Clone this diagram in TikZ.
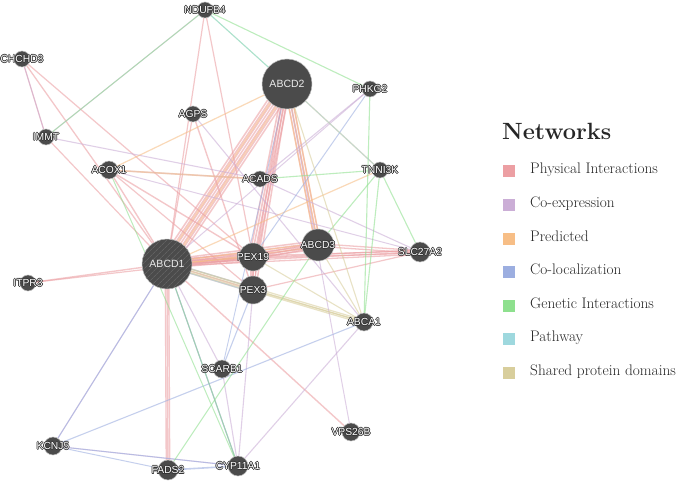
\documentclass[tikz,border=0pt]{standalone}
\usepackage{fontspec}
\newfontfamily\labf{Liberation Sans}
\usetikzlibrary{patterns.meta,calc}
\pgfdeclarelayer{background}
\pgfsetlayers{background,main}
\definecolor{nodec}{HTML}{4B4B4B}
\definecolor{haloc}{HTML}{333333}
\definecolor{hatchc}{HTML}{6E6E6E}
\definecolor{cPhys}{HTML}{EC9FA3}
\definecolor{cCoexp}{HTML}{CBAED6}
\definecolor{cPred}{HTML}{F7BE86}
\definecolor{cColoc}{HTML}{9CAEE0}
\definecolor{cGen}{HTML}{8EE08E}
\definecolor{cPath}{HTML}{9ED8DE}
\definecolor{cShared}{HTML}{D8CE9C}
\newcommand\hlo[1]{{\setbox0=\hbox{\labf\fontsize{10.3}{11}\selectfont #1}%
 \color{haloc}%
 \rlap{\kern0.65pt\copy0}\rlap{\kern-0.65pt\copy0}\rlap{\raise0.65pt\copy0}\rlap{\lower0.65pt\copy0}%
 \rlap{\kern0.45pt\raise0.45pt\copy0}\rlap{\kern-0.45pt\raise0.45pt\copy0}%
 \rlap{\kern0.45pt\lower0.45pt\copy0}\rlap{\kern-0.45pt\lower0.45pt\copy0}%
 \color{white}\copy0}}
\newcommand\blab[1]{{\labf\fontsize{10.5}{12}\selectfont\color{white!92!black}#1}}
% bundle of parallel connectors: from, to, colour, count, spacing, width
\newcommand\bund[6]{\foreach \k in {1,...,#4}{\pgfmathsetmacro\o{(\k-(#4+1)/2)*#5}%
 \draw[#3,ed,line width=#6pt] ($(#1)!\o pt!90:(#2)$) -- ($(#2)!\o pt!-90:(#1)$);}}
\tikzset{
 gn/.style={circle, fill=nodec, draw=white!75!black, line width=0.5pt, inner sep=0pt, minimum size=#1},
 gn/.default=16,
 lsq/.style={rectangle, minimum size=12, inner sep=0pt},
 ltx/.style={anchor=mid west, inner sep=0pt, font=\fontsize{15.3}{18}\selectfont, text=black!85},
 ed/.style={opacity=0.58},
}
\begin{document}
\begin{tikzpicture}[x=1pt,y=-1pt]
\useasboundingbox (0,0) rectangle (685,484);
% nodes
\node[gn] (nd) at (205,10) {\makebox[0pt]{\hlo{NDUFB4}}};
\node[gn] (ch) at (22,59) {\makebox[0pt]{\hlo{CHCHD3}}};
\node[gn=50] (a2) at (287,84) {\blab{ABCD2}};
\node[gn] (ph) at (370,89) {\makebox[0pt]{\hlo{PHKG2}}};
\node[gn] (ag) at (193,114) {\makebox[0pt]{\hlo{AGPS}}};
\node[gn] (im) at (46,137) {\makebox[0pt]{\hlo{IMMT}}};
\node[gn=18] (ac) at (109,170) {\makebox[0pt]{\hlo{ACOX1}}};
\node[gn] (ad) at (260,179) {\makebox[0pt]{\hlo{ACADS}}};
\node[gn] (tn) at (380,170) {\makebox[0pt]{\hlo{TNNI3K}}};
\node[gn=50, postaction={pattern={Lines[angle=45,distance=4pt,line width=0.6pt]}, pattern color=hatchc}] (a1) at (167,264) {\blab{ABCD1}};
\node[gn=28] (p19) at (253,257) {\makebox[0pt]{\hlo{PEX19}}};
\node[gn=32] (a3) at (318,245) {\makebox[0pt]{\hlo{ABCD3}}};
\node[gn=20] (sl) at (420,252) {\makebox[0pt]{\hlo{SLC27A2}}};
\node[gn] (it) at (28,283) {\makebox[0pt]{\hlo{ITPR3}}};
\node[gn=28] (p3) at (253,290) {\makebox[0pt]{\hlo{PEX3}}};
\node[gn=18] (aa) at (364,322) {\makebox[0pt]{\hlo{ABCA1}}};
\node[gn=18] (sc) at (222,369) {\makebox[0pt]{\hlo{SCARB1}}};
\node[gn=18] (vp) at (351,432) {\makebox[0pt]{\hlo{VPS26B}}};
\node[gn=18] (kc) at (53,446) {\makebox[0pt]{\hlo{KCNJ5}}};
\node[gn=20] (fa) at (168,470) {\makebox[0pt]{\hlo{FADS2}}};
\node[gn=20] (cy) at (238,466) {\makebox[0pt]{\hlo{CYP11A1}}};
% edges
\begin{pgfonlayer}{background}
\fill[white] (0,0) rectangle (685,484);
% bundles
\bund{a1}{a2}{cPhys}{7}{2.4}{1.5}
\bund{a1}{a2}{cPred}{2}{7}{1.2}
\bund{a1}{p19}{cPhys}{5}{1.9}{1.5}
\bund{a1}{a3}{cPhys}{5}{2.1}{1.5}
\bund{a1}{a3}{cPred}{2}{3.5}{1.2}
\bund{a1}{p3}{cPhys}{3}{2.2}{1.4}
\bund{a1}{p3}{cPath}{2}{4.5}{1.2}
\bund{a2}{p19}{cPhys}{4}{2.4}{1.6}
\bund{a2}{a3}{cPhys}{3}{2.4}{1.5}
\bund{a2}{a3}{cPred}{3}{2.6}{1.3}
\bund{a2}{p3}{cPhys}{3}{2.4}{1.5}
\bund{p19}{a3}{cPhys}{3}{2.2}{1.4}
\bund{a1}{sl}{cPhys}{3}{2.2}{1.3}
\bund{p19}{sl}{cPhys}{2}{2.2}{1.3}
\bund{a3}{sl}{cPhys}{2}{2.6}{1.3}
\bund{a1}{fa}{cPhys}{3}{1.7}{1.4}
\bund{a1}{aa}{cShared}{3}{1.7}{1.2}
\bund{p19}{p3}{cPhys}{3}{2.2}{1.4}
\foreach \a/\b/\w in {p3/sl/1.2,a1/vp/1.4,a1/it/1.4,ch/a1/1.3,ch/p19/1.2,ch/im/1.2,im/a1/1.2,nd/a1/1.2,nd/p19/1.2,
  ag/a1/1.2,ag/p3/1.4,ac/a1/1.4,ac/p19/1.4,ac/p3/1.2,it/p19/1.2}
  \draw[cPhys,ed,line width=\w pt] (\a) -- (\b);
\foreach \a/\b/\w in {nd/im/1.1,ch/im/1,im/ad/1.1,ac/ad/1.3,ag/aa/1.1,ph/ad/1.1,ad/sl/1.1,kc/a1/1.1,kc/cy/1.1,
  cy/a1/1.1,cy/sc/1.1,aa/cy/1.1,a1/sc/1.1,p3/cy/1.1,a2/vp/1,ac/sl/1,ph/a1/1}
  \draw[cCoexp,ed,line width=\w pt] (\a) -- (\b);
\foreach \a/\b/\w in {a2/ac/1.2,ac/ad/1.6,tn/a1/1.2,a2/tn/1.2,a1/p19/1.2}
  \draw[cPred,ed,line width=\w pt] (\a) -- (\b);
\foreach \a/\b/\w in {kc/a1/1,kc/aa/1.1,kc/fa/1,kc/cy/1,fa/cy/1.6,sc/p3/1.1,a1/cy/1.1,ph/p19/1,sc/a2/0.9}
  \draw[cColoc,ed,line width=\w pt] (\a) -- (\b);
\foreach \a/\b/\w in {nd/a2/1,nd/ph/1.1,nd/im/1,ph/aa/1.1,tn/aa/1.1,tn/sl/1.1,tn/a3/1.1,a3/fa/1.1,ad/tn/1.1,ac/cy/1,a1/cy/1}
  \draw[cGen,ed,line width=\w pt] (\a) -- (\b);
\foreach \a/\b/\w in {a2/tn/1.1,nd/a2/0.9}
  \draw[cPath,ed,line width=\w pt] (\a) -- (\b);
\foreach \a/\b/\w in {a2/aa/1.1,a3/aa/1.1,p3/aa/1.3,p19/aa/1.1}
  \draw[cShared,ed,line width=\w pt] (\a) -- (\b);
\end{pgfonlayer}
% legend
\node[anchor=mid west, inner sep=0pt, font=\fontsize{23.5}{27}\selectfont\bfseries, text=black!85] (lt) at (502,137) {Networks};
\node[lsq, fill=cPhys] (s1) at (509,171) {};
\node[ltx] (t1) at (530,171) {Physical Interactions};
\node[lsq, fill=cCoexp] (s2) at (509,205) {};
\node[ltx] (t2) at (530,205) {Co-expression};
\node[lsq, fill=cPred] (s3) at (509,239) {};
\node[ltx] (t3) at (530,239) {Predicted};
\node[lsq, fill=cColoc] (s4) at (509,272) {};
\node[ltx] (t4) at (530,272) {Co-localization};
\node[lsq, fill=cGen] (s5) at (509,306) {};
\node[ltx] (t5) at (530,306) {Genetic Interactions};
\node[lsq, fill=cPath] (s6) at (509,339) {};
\node[ltx] (t6) at (530,339) {Pathway};
\node[lsq, fill=cShared] (s7) at (509,373) {};
\node[ltx] (t7) at (530,373) {Shared protein domains};
\end{tikzpicture}
\end{document}
